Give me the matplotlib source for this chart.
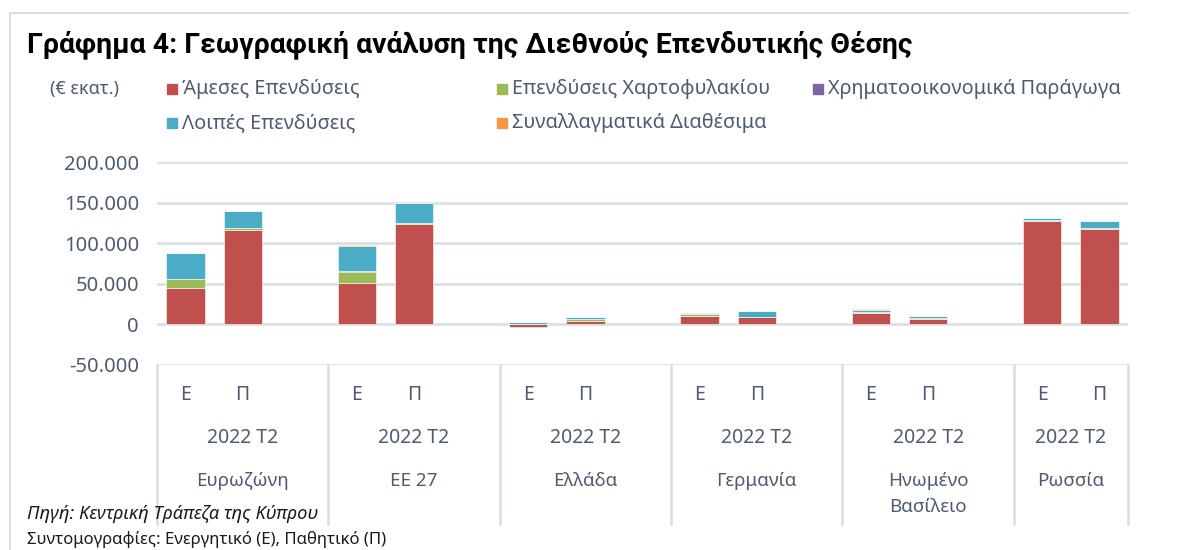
import matplotlib
matplotlib.use("Agg")
import matplotlib.pyplot as plt
import matplotlib.transforms as mtransforms
from matplotlib.patches import Rectangle
from matplotlib.lines import Line2D
import numpy as np

# DATA (€ mn)
countries = ["Ευρωζώνη", "ΕΕ 27", "Ελλάδα", "Γερμανία", "Ηνωμένο\nΒασίλειο", "Ρωσσία"]
period = "2022 T2"
sides = ["Ε", "Π"]

direct_E = [45000, 51500, -3000, 10700, 13500, 126800]
direct_P = [116800, 123300, 4000, 8500, 7000, 118000]
portfolio_E = [10600, 13500, 500, 2000, 1500, 1200]
portfolio_P = [1600, 1200, 2500, 300, 300, 300]
derivs_E = [200, 300, 100, 200, 300, 100]
derivs_P = [300, 300, 200, 200, 300, 600]
other_E = [31700, 31800, 2700, 1200, 3000, 3000]
other_P = [20400, 25000, 2000, 7900, 2200, 8200]
reserves_E = [0, 1000, 0, 0, 1000, 0]
reserves_P = [0, 0, 500, 0, 0, 0]

series_names = ["Άμεσες Επενδύσεις", "Επενδύσεις Χαρτοφυλακίου",
                "Χρηματοοικονομικά Παράγωγα", "Λοιπές Επενδύσεις",
                "Συναλλαγματικά Διαθέσιμα"]
series_E = [direct_E, portfolio_E, derivs_E, other_E, reserves_E]
series_P = [direct_P, portfolio_P, derivs_P, other_P, reserves_P]
colors = ["#C0504D", "#9BBB59", "#8064A2", "#4BACC6", "#F79646"]

TXT = "#4F5B6E"
GRID = "#D9DDE3"
plt.rcParams["font.family"] = ["Noto Sans", "DejaVu Sans"]

W, H = 1192, 550
fig = plt.figure(figsize=(W / 100, H / 100), dpi=100)
ax = fig.add_axes([157 / W, 1 - 365 / H, (1128 - 157) / W, (365 - 162) / H])

# x positions: 3 slots per country, E and Π in first two
xE = np.arange(len(countries)) * 3
xP = xE + 1
x = np.concatenate([xE, xP])

pos = np.zeros(len(x))
neg = np.zeros(len(x))
for name, sE, sP, c in zip(series_names, series_E, series_P, colors):
    v = np.array(sE + sP, dtype=float)
    bottom = np.where(v >= 0, pos, neg)
    ax.bar(x, v, bottom=bottom, width=0.67, color=c, edgecolor="white",
           linewidth=0.4, zorder=3)
    pos = pos + np.where(v >= 0, v, 0)
    neg = neg + np.where(v < 0, v, 0)

ax.set_xlim(-0.5, 16.5)
ax.set_ylim(-50000, 200000)
ax.set_yticks(np.arange(-50000, 200001, 50000))
ax.set_yticklabels([f"{t:,.0f}".replace(",", ".") for t in ax.get_yticks()],
                   fontsize=14.5, color=TXT)
ax.tick_params(axis="y", length=0, pad=13)
ax.set_xticks([])
ax.grid(axis="y", color=GRID, linewidth=1.8, zorder=0)
for s in ax.spines.values():
    s.set_visible(False)

# category table under the axis
tr = mtransforms.blended_transform_factory(ax.transData, fig.transFigure)
def fy(py):
    return 1 - py / H

for i, name in enumerate(countries):
    ax.text(xE[i], fy(395), sides[0], transform=tr, ha="center", va="center",
            fontsize=14, color=TXT)
    ax.text(xP[i], fy(395), sides[1], transform=tr, ha="center", va="center",
            fontsize=14, color=TXT)
    lo = xE[i] - 0.5
    hi = min(xE[i] + 2.5, 16.5)
    mid = (lo + hi) / 2
    ax.text(mid, fy(438), period, transform=tr, ha="center", va="center",
            fontsize=14, color=TXT)
    for k, ln in enumerate(name.split("\n")):
        ax.text(mid, fy(481 + 26 * k), ln, transform=tr, ha="center", va="center",
                fontsize=13.5, color=TXT)

for b in [-0.5, 2.5, 5.5, 8.5, 11.5, 14.5, 16.5]:
    ax.add_line(Line2D([b, b], [fy(365), fy(524)], transform=tr, color=GRID,
                       linewidth=1.8, clip_on=False))

# title
fig.text(27 / W, fy(45), "Γράφημα 4: Γεωγραφική ανάλυση της Διεθνούς Επενδυτικής Θέσης",
         fontsize=20.4, fontweight="bold", color="black", va="center",
         family=["Roboto", "DejaVu Sans"])

# legend (manual, Excel style)
fig.text(50 / W, fy(89), "(€ εκατ.)", fontsize=13, color=TXT, va="center")
leg_pos = [(167, 89), (497, 89), (813, 89), (167, 123), (497, 123)]
for (px, py), k in zip(leg_pos, range(5)):
    fig.patches.append(Rectangle((px / W, fy(py + 5)), 10 / W, 10 / H,
                                 transform=fig.transFigure, color=colors[k]))
    fig.text((px + 15) / W, fy(py), series_names[k], fontsize=14.3, color=TXT,
             va="center")

# footer
fig.text(27 / W, fy(514), "Πηγή: Κεντρική Τράπεζα της Κύπρου", fontsize=13.2,
         style="italic", color="#1a1a1a", va="center")
fig.text(27 / W, fy(540), "Συντομογραφίες: Ενεργητικό (Ε), Παθητικό (Π)",
         fontsize=12, color="#1a1a1a", va="center")

# outer frame lines
fig.add_artist(Line2D([10 / W, 10 / W], [fy(13), 0], transform=fig.transFigure,
                      color=GRID, linewidth=1.5))
fig.add_artist(Line2D([10 / W, 1128 / W], [fy(13), fy(13)], transform=fig.transFigure,
                      color=GRID, linewidth=1.5))

fig.savefig("out.png", dpi=100)
